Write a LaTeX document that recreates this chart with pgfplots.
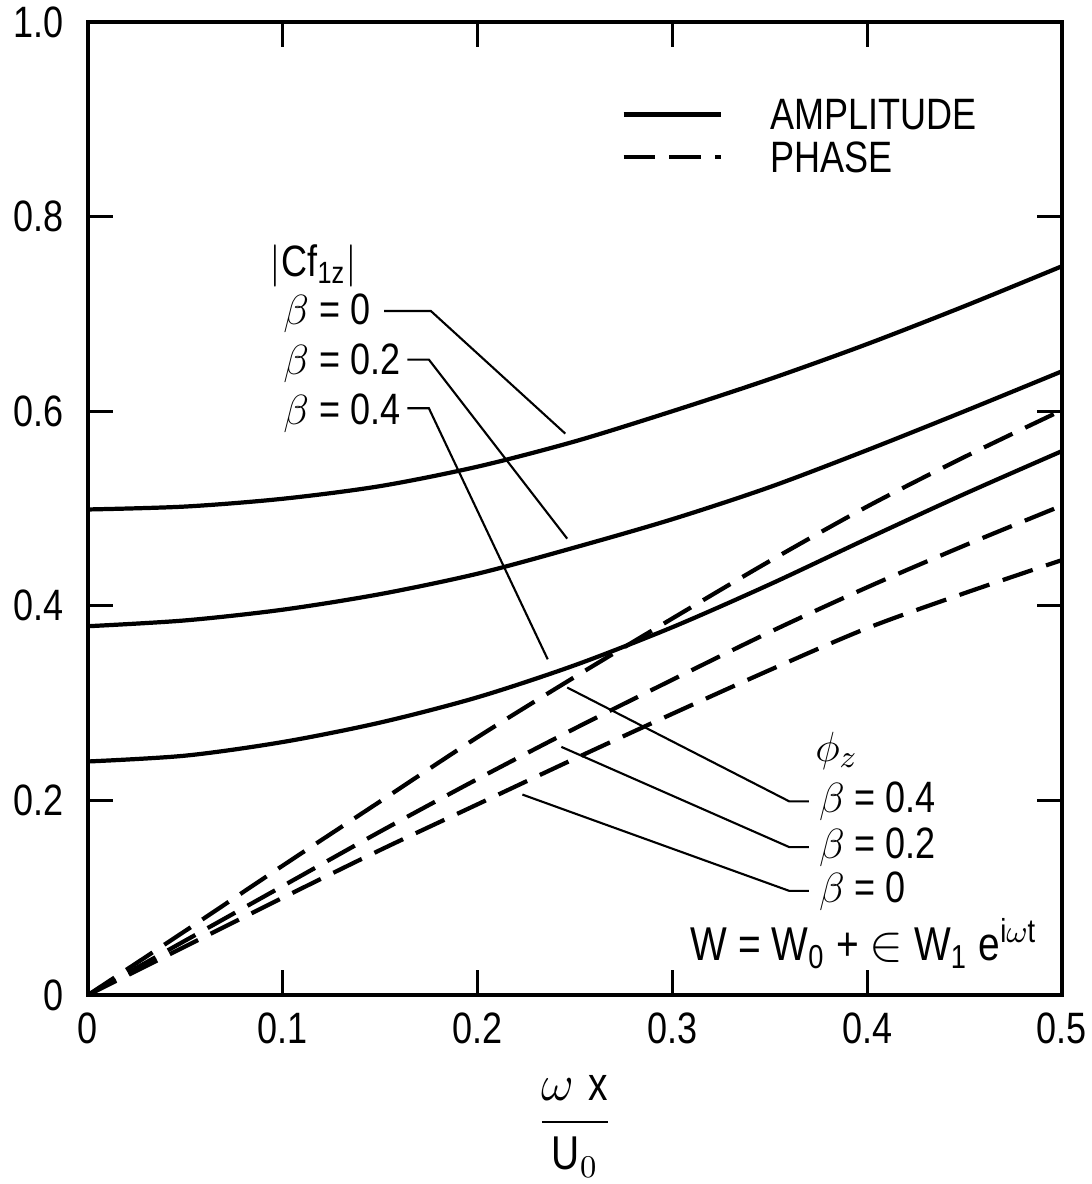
\documentclass[border=0pt]{standalone}
\usepackage{amsmath}
\usepackage{fontspec}
\setmainfont[FakeStretch=0.82]{Liberation Sans}
\usepackage{pgfplots}
\pgfplotsset{compat=1.18}

\begin{document}
\begin{tikzpicture}[font=\fontsize{12.5}{15}\selectfont]
\begin{axis}[
    width=9.74cm, height=9.73cm, scale only axis,
    xmin=0, xmax=0.5, ymin=0, ymax=1,
    xtick={0,0.1,0.2,0.3,0.4,0.5},
    xticklabels={0,0.1,0.2,0.3,0.4,0.5},
    ytick={0,0.2,0.4,0.6,0.8,1.0},
    yticklabels={0,0.2,0.4,0.6,0.8,1.0},
    tick align=inside, major tick length=0.25cm,
    tick style={line width=0.9pt, black},
    axis line style={line width=1pt},
    yticklabel style={xshift=-0.12cm},
    xticklabel style={yshift=-0.05cm},
    xlabel={$\dfrac{\omega\;\text{x}}{\text{U}_0}$},
    xlabel style={yshift=-0.08cm, font=\fontsize{13.5}{16}\selectfont},
    every axis plot/.append style={line width=1.2pt, smooth, black, no markers},
]
% amplitude |Cf1z|
\addplot[solid] coordinates {(0,0.499) (0.05,0.502) (0.1,0.510) (0.15,0.523) (0.2,0.543) (0.25,0.569)
  (0.3,0.600) (0.35,0.633) (0.4,0.669) (0.45,0.708) (0.5,0.749)};
\addplot[solid] coordinates {(0,0.379) (0.05,0.385) (0.1,0.396) (0.15,0.412) (0.2,0.433) (0.25,0.460)
  (0.3,0.489) (0.35,0.522) (0.4,0.560) (0.45,0.600) (0.5,0.641)};
\addplot[solid] coordinates {(0,0.240) (0.05,0.246) (0.1,0.260) (0.15,0.280) (0.2,0.306) (0.25,0.339)
  (0.3,0.378) (0.35,0.422) (0.4,0.469) (0.45,0.515) (0.5,0.559)};
% phase phi_z
\addplot[dash pattern=on 9pt off 4pt] coordinates {(0,0) (0.05,0.066) (0.1,0.133) (0.15,0.199)
  (0.2,0.265) (0.25,0.327) (0.3,0.387) (0.35,0.446) (0.4,0.502) (0.45,0.553) (0.5,0.601)};
\addplot[dash pattern=on 9pt off 4pt] coordinates {(0,0) (0.05,0.056) (0.1,0.112) (0.15,0.168)
  (0.2,0.222) (0.25,0.274) (0.3,0.324) (0.35,0.373) (0.4,0.419) (0.45,0.462) (0.5,0.503)};
\addplot[dash pattern=on 9pt off 4pt] coordinates {(0,0) (0.05,0.050) (0.1,0.100) (0.15,0.149)
  (0.2,0.196) (0.25,0.243) (0.3,0.289) (0.35,0.334) (0.4,0.377) (0.45,0.413) (0.5,0.447)};

% key
\draw[line width=1.2pt] (axis cs:0.275,0.905) -- (axis cs:0.325,0.905);
\draw[line width=1.2pt, dash pattern=on 9pt off 4pt] (axis cs:0.275,0.861) -- (axis cs:0.325,0.861);
\node[anchor=west, inner sep=0pt] at (axis cs:0.350,0.905) {AMPLITUDE};
\node[anchor=west, inner sep=0pt] at (axis cs:0.350,0.861) {PHASE};

% amplitude labels
\node[anchor=west, inner sep=0pt] at (axis cs:0.093,0.749) {$\left|\text{Cf}_{\text{1z}}\right|$};
\node[anchor=west, inner sep=0pt] at (axis cs:0.100,0.701) {$\beta$ = 0};
\node[anchor=west, inner sep=0pt] at (axis cs:0.100,0.649) {$\beta$ = 0.2};
\node[anchor=west, inner sep=0pt] at (axis cs:0.100,0.598) {$\beta$ = 0.4};
\draw[line width=0.6pt] (axis cs:0.152,0.703) -- (axis cs:0.176,0.703) -- (axis cs:0.245,0.577);
\draw[line width=0.6pt] (axis cs:0.164,0.653) -- (axis cs:0.175,0.653) -- (axis cs:0.246,0.469);
\draw[line width=0.6pt] (axis cs:0.164,0.603) -- (axis cs:0.175,0.603) -- (axis cs:0.236,0.345);

% phase labels
\node[anchor=west, inner sep=0pt] at (axis cs:0.373,0.251) {$\phi_z$};
\node[anchor=west, inner sep=0pt] at (axis cs:0.375,0.199) {$\beta$ = 0.4};
\node[anchor=west, inner sep=0pt] at (axis cs:0.375,0.152) {$\beta$ = 0.2};
\node[anchor=west, inner sep=0pt] at (axis cs:0.375,0.107) {$\beta$ = 0};
\draw[line width=0.6pt] (axis cs:0.370,0.199) -- (axis cs:0.360,0.199) -- (axis cs:0.246,0.316);
\draw[line width=0.6pt] (axis cs:0.370,0.152) -- (axis cs:0.360,0.152) -- (axis cs:0.243,0.255);
\draw[line width=0.6pt] (axis cs:0.370,0.107) -- (axis cs:0.360,0.107) -- (axis cs:0.223,0.206);

\node[anchor=west, inner sep=0pt, font=\fontsize{13.5}{16}\selectfont] at (axis cs:0.309,0.053)
  {W = W\textsubscript{0} + $\in$ W\textsubscript{1} e\textsuperscript{i$\omega$t}};
\end{axis}
\pgfresetboundingbox
\path ([shift={(-0.88cm,-1.89cm)}]current axis.south west)
  rectangle ([shift={(10.04cm,9.95cm)}]current axis.south west);
\end{tikzpicture}
\end{document}
